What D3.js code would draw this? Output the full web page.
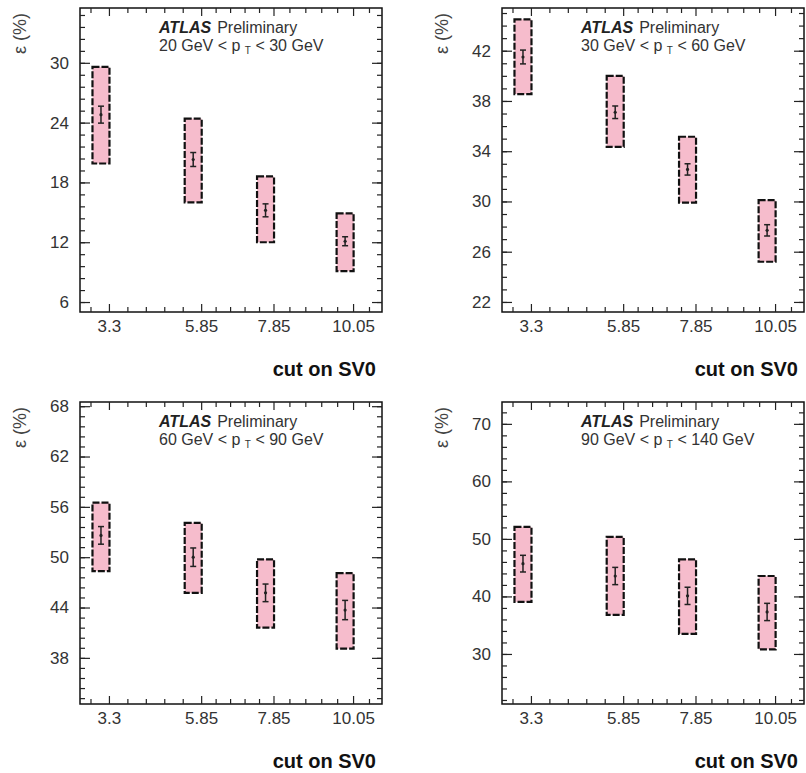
<!DOCTYPE html>
<html><head><meta charset="utf-8">
<script src="https://cdn.jsdelivr.net/npm/d3@7"></script>
<style>
body{margin:0;background:#fff;}
svg{display:block;font-family:"Liberation Sans",Arial,sans-serif;}
</style></head>
<body>
<svg id="chart" width="806" height="773"></svg>
<script>
// ---------- data ----------
const cutLabels = ["3.3", "5.85", "7.85", "10.05"];
const cutValues = [3.3, 5.85, 7.85, 10.05];
const ptLow  = [20, 30, 60, 90];
const ptHigh = [30, 60, 90, 140];

// efficiency (%) central values per pT bin
const eff1 = [24.8, 20.3, 15.2, 12.1];
const eff2 = [41.5, 37.1, 32.55, 27.7];
const eff3 = [52.6, 50.0, 45.75, 43.7];
const eff4 = [45.7, 43.55, 40.1, 37.3];
// statistical errors
const stat1 = [0.85, 0.7, 0.65, 0.45];
const stat2 = [0.55, 0.5, 0.45, 0.45];
const stat3 = [1.05, 1.1, 1.05, 1.15];
const stat4 = [1.45, 1.5, 1.5, 1.5];
// systematic band (low / high edges)
const sysLo1 = [19.9, 16.0, 12.0, 9.1];
const sysHi1 = [29.6, 24.4, 18.6, 14.9];
const sysLo2 = [38.55, 34.35, 29.9, 25.2];
const sysHi2 = [44.5, 40.0, 35.15, 30.1];
const sysLo3 = [48.35, 45.75, 41.6, 39.1];
const sysHi3 = [56.5, 54.1, 49.75, 48.1];
const sysLo4 = [39.05, 36.8, 33.5, 30.8];
const sysHi4 = [52.1, 50.35, 46.45, 43.55];

// axis ranges and ticks
const xDomain = [2.5, 10.85];
const yDomain1 = [5, 35.5],   yTicks1 = [6, 12, 18, 24, 30],   yMinor1 = 1.2;
const yDomain2 = [21.2, 45.4], yTicks2 = [22, 26, 30, 34, 38, 42], yMinor2 = 1;
const yDomain3 = [32.5, 68.5], yTicks3 = [38, 44, 50, 56, 62, 68], yMinor3 = 1.2;
const yDomain4 = [21.3, 73.8], yTicks4 = [30, 40, 50, 60, 70],   yMinor4 = 2;

// ---------- layout ----------
const panels = [
  {x0: 80,  y0: 8,   w: 302, h: 304, eff: eff1, stat: stat1, lo: sysLo1, hi: sysHi1, yd: yDomain1, yt: yTicks1, ym: yMinor1, i: 0},
  {x0: 502, y0: 8,   w: 302, h: 304, eff: eff2, stat: stat2, lo: sysLo2, hi: sysHi2, yd: yDomain2, yt: yTicks2, ym: yMinor2, i: 1},
  {x0: 80,  y0: 402, w: 302, h: 302, eff: eff3, stat: stat3, lo: sysLo3, hi: sysHi3, yd: yDomain3, yt: yTicks3, ym: yMinor3, i: 2},
  {x0: 502, y0: 402, w: 302, h: 302, eff: eff4, stat: stat4, lo: sysLo4, hi: sysHi4, yd: yDomain4, yt: yTicks4, ym: yMinor4, i: 3}
];
const boxShift = -0.22, boxHalf = 0.235;
const textCol = "#333";

const svg = d3.select("#chart");

function minorX() {
  const out = [];
  for (let k = 0; k < cutValues.length - 1; k++) {
    const a = cutValues[k], b = cutValues[k + 1], s = (b - a) / 5;
    for (let j = 1; j < 5; j++) out.push(a + j * s);
  }
  let s0 = (cutValues[1] - cutValues[0]) / 5;
  for (let v = cutValues[0] - s0; v > xDomain[0]; v -= s0) out.push(v);
  const n = cutValues.length;
  let s1 = (cutValues[n - 1] - cutValues[n - 2]) / 5;
  for (let v = cutValues[n - 1] + s1; v < xDomain[1]; v += s1) out.push(v);
  return out;
}

panels.forEach(p => {
  const g = svg.append("g").attr("transform", `translate(${p.x0},${p.y0})`);
  const x = d3.scaleLinear().domain(xDomain).range([0, p.w]);
  const y = d3.scaleLinear().domain(p.yd).range([p.h, 0]);

  // systematic boxes
  g.selectAll("rect.sys").data(cutValues).enter().append("rect")
    .attr("class", "sys")
    .attr("x", (d) => x(d + boxShift - boxHalf))
    .attr("width", (d) => x(d + boxShift + boxHalf) - x(d + boxShift - boxHalf))
    .attr("y", (d, i) => y(p.hi[i]))
    .attr("height", (d, i) => y(p.lo[i]) - y(p.hi[i]))
    .attr("fill", "#f6bccc")
    .attr("stroke", "#111")
    .attr("stroke-width", 2.2)
    .attr("stroke-dasharray", "7,2");

  // stat error bars
  const eb = g.selectAll("g.eb").data(cutValues).enter().append("g").attr("class", "eb");
  eb.append("line")
    .attr("x1", d => x(d + boxShift)).attr("x2", d => x(d + boxShift))
    .attr("y1", (d, i) => y(p.eff[i] + p.stat[i])).attr("y2", (d, i) => y(p.eff[i] - p.stat[i]))
    .attr("stroke", "#222").attr("stroke-width", 1.5);
  [1, -1].forEach(sg => {
    eb.append("line")
      .attr("x1", d => x(d + boxShift) - 3).attr("x2", d => x(d + boxShift) + 3)
      .attr("y1", (d, i) => y(p.eff[i] + sg * p.stat[i])).attr("y2", (d, i) => y(p.eff[i] + sg * p.stat[i]))
      .attr("stroke", "#222").attr("stroke-width", 1.5);
  });
  eb.append("circle")
    .attr("cx", d => x(d + boxShift)).attr("cy", (d, i) => y(p.eff[i]))
    .attr("r", 1.6).attr("fill", "#222");

  // frame
  g.append("rect").attr("x", 0).attr("y", 0).attr("width", p.w).attr("height", p.h)
    .attr("fill", "none").attr("stroke", "#111").attr("stroke-width", 1.5);

  // y ticks (left, inward) and right mirror
  const yMinorVals = [];
  const step = p.ym;
  for (let v = p.yt[0]; v >= p.yd[0]; v -= step) yMinorVals.push(v);
  for (let v = p.yt[0] + step; v <= p.yd[1] + 1e-9; v += step) yMinorVals.push(v);
  const yAxL = d3.axisRight(y).tickValues(p.yt).tickSize(10).tickFormat("");
  const yAxLm = d3.axisRight(y).tickValues(yMinorVals).tickSize(5).tickFormat("");
  const yAxR = d3.axisLeft(y).tickValues(p.yt).tickSize(10).tickFormat("");
  const yAxRm = d3.axisLeft(y).tickValues(yMinorVals).tickSize(5).tickFormat("");
  [[yAxL, 0], [yAxLm, 0], [yAxR, p.w], [yAxRm, p.w]].forEach(([ax, tx]) => {
    const a = g.append("g").attr("transform", `translate(${tx},0)`).call(ax);
    a.select(".domain").remove();
    a.selectAll("line").attr("stroke", "#222").attr("stroke-width", 1.2);
  });
  // y tick labels
  const yLab = d3.axisLeft(y).tickValues(p.yt).tickSize(0).tickPadding(11).tickFormat(d3.format("d"));
  const yl = g.append("g").call(yLab);
  yl.select(".domain").remove();
  yl.selectAll("text").attr("font-size", 17).attr("fill", textCol).attr("font-family", "Liberation Sans, Arial, sans-serif");

  // x ticks bottom (inward) and top
  const mx = minorX();
  const xAxB = d3.axisTop(x).tickValues(cutValues).tickSize(8).tickFormat("");
  const xAxBm = d3.axisTop(x).tickValues(mx).tickSize(5).tickFormat("");
  const xAxT = d3.axisBottom(x).tickValues(cutValues).tickSize(8).tickFormat("");
  const xAxTm = d3.axisBottom(x).tickValues(mx).tickSize(5).tickFormat("");
  [[xAxB, p.h], [xAxBm, p.h], [xAxT, 0], [xAxTm, 0]].forEach(([ax, ty]) => {
    const a = g.append("g").attr("transform", `translate(0,${ty})`).call(ax);
    a.select(".domain").remove();
    a.selectAll("line").attr("stroke", "#222").attr("stroke-width", 1.2);
  });
  const xLab = d3.axisBottom(x).tickValues(cutValues).tickSize(0).tickPadding(8)
    .tickFormat((d, i) => cutLabels[i]);
  const xl = g.append("g").attr("transform", `translate(0,${p.h})`).call(xLab);
  xl.select(".domain").remove();
  xl.selectAll("text").attr("font-size", 17).attr("fill", textCol).attr("font-family", "Liberation Sans, Arial, sans-serif");

  // x title
  g.append("text").attr("x", p.w - 6).attr("y", p.h + 64)
    .attr("text-anchor", "end").attr("font-size", 20).attr("font-weight", "bold")
    .attr("fill", "#111").text("cut on SV0");

  // y title
  g.append("text")
    .attr("transform", `translate(${-54},${5}) rotate(-90)`)
    .attr("text-anchor", "end").attr("font-size", 18).attr("fill", "#444")
    .text("ε (%)");

  // annotation
  const t1 = g.append("text").attr("x", 79).attr("y", 25).attr("font-size", 16).attr("fill", textCol);
  t1.append("tspan").attr("font-weight", "bold").attr("font-style", "italic").attr("fill", "#222").text("ATLAS");
  t1.append("tspan").attr("dx", 6).text("Preliminary");
  const t2 = g.append("text").attr("x", 79).attr("y", 43).attr("font-size", 16).attr("fill", textCol);
  t2.append("tspan").text(`${ptLow[p.i]} GeV < p `);
  t2.append("tspan").attr("font-size", 10).attr("dy", 3).text("T");
  t2.append("tspan").attr("dy", -3).text(` < ${ptHigh[p.i]} GeV`);
});
</script>
</body></html>
